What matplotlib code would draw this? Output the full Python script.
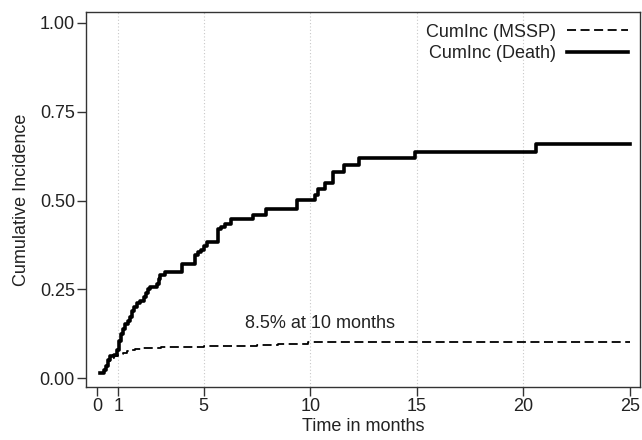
import matplotlib
matplotlib.use("Agg")
import matplotlib.pyplot as plt

# Cumulative incidence (months, proportion)
death_t = [0.14, 0.3, 0.4, 0.5, 0.6, 0.8, 0.95, 1.02, 1.1, 1.2, 1.3, 1.45, 1.56, 1.65,
           1.75, 1.88, 2.0, 2.19, 2.3, 2.4, 2.5, 2.81, 2.9, 2.97, 3.2, 3.99, 4.61, 4.73,
           4.85, 5.0, 5.16, 5.67, 5.8, 6.0, 6.3, 7.3, 7.9, 9.4, 10.2, 10.35, 10.7, 11.07,
           11.6, 12.3, 14.9, 20.6, 25.0]
death_ci = [0.014, 0.022, 0.035, 0.052, 0.062, 0.066, 0.08, 0.105, 0.125, 0.14, 0.152, 0.162,
            0.173, 0.188, 0.2, 0.211, 0.218, 0.229, 0.24, 0.25, 0.257, 0.264, 0.28, 0.29, 0.30,
            0.323, 0.346, 0.355, 0.362, 0.372, 0.384, 0.42, 0.425, 0.435, 0.448, 0.459, 0.476,
            0.501, 0.515, 0.532, 0.55, 0.58, 0.60, 0.62, 0.637, 0.659, 0.659]

mssp_t = [0.19, 0.3, 0.4, 0.5, 0.6, 0.8, 1.0, 1.2, 1.4, 1.6, 1.8, 2.1, 3.0, 5.0, 6.5,
          7.5, 8.5, 9.9, 25.0]
mssp_ci = [0.014, 0.022, 0.035, 0.048, 0.058, 0.064, 0.068, 0.072, 0.076, 0.08, 0.083,
           0.086, 0.087, 0.090, 0.092, 0.094, 0.096, 0.101, 0.101]

xticks = [0, 1, 5, 10, 15, 20, 25]
grid_x = [1, 5, 10, 15, 20]
yticks = [0.0, 0.25, 0.5, 0.75, 1.0]

plt.rcParams['font.family'] = ['Liberation Sans', 'DejaVu Sans']
plt.rcParams['font.size'] = 13

fig = plt.figure(figsize=(6.42, 4.40), dpi=100)
ax = fig.add_axes([0.134, 0.120, 0.863, 0.853])

edge = '#333333'
txt = '#222222'
for x in grid_x:
    ax.axvline(x, color='#c8c8c8', lw=0.8, ls=(0, (1, 2)), zorder=0)

ax.plot(mssp_t, mssp_ci, drawstyle='steps-post', color='black', lw=1.3,
        dashes=(5, 2.5), label='CumInc (MSSP)')
ax.plot(death_t, death_ci, drawstyle='steps-post', color='black', lw=2.6,
        label='CumInc (Death)')

ax.text(6.94, 0.155, '8.5% at 10 months', fontsize=13, va='center', ha='left', color=txt)

ax.set_xlim(-0.52, 25.47)
ax.set_ylim(-0.025, 1.031)
ax.set_xticks(xticks)
ax.set_yticks(yticks)
ax.set_yticklabels([f'{v:.2f}' for v in yticks])
ax.tick_params(direction='out', length=6.5, width=1.0, color=edge, labelcolor=txt,
               pad=1.5, labelsize=13)
for s in ax.spines.values():
    s.set_color(edge)
    s.set_linewidth(1.0)

ax.set_xlabel('Time in months', fontsize=13, labelpad=2, color=txt)
ax.set_ylabel('Cumulative Incidence', fontsize=13, labelpad=7, color=txt)

leg = ax.legend(loc='upper right', frameon=False, markerfirst=False, handlelength=3.4,
                handletextpad=0.6, labelspacing=0.25, borderaxespad=0.25, fontsize=13)
for t in leg.get_texts():
    t.set_color(txt)

fig.savefig('out.png', dpi=100)
